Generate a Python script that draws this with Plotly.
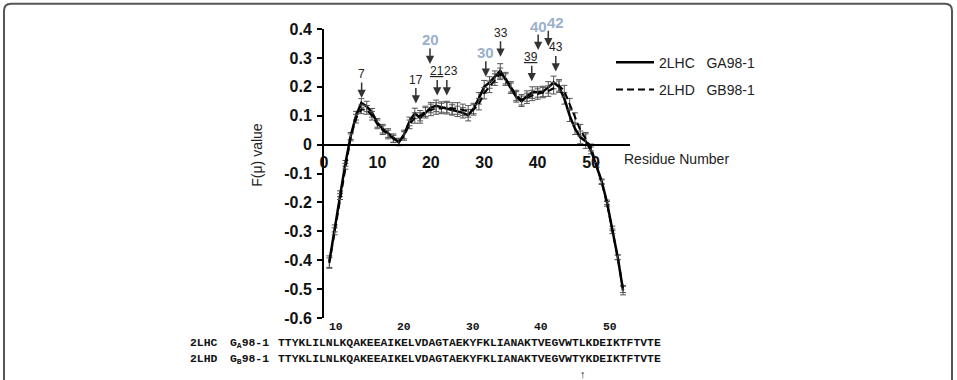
import plotly.graph_objects as go

# ---------------- data ----------------
residues = list(range(1, 57))

f_2lhc = [-0.405, -0.290, -0.170, -0.065, 0.030, 0.100, 0.144, 0.132, 0.110, 0.075,
          0.055, 0.040, 0.022, 0.008, 0.035, 0.080, 0.108, 0.092, 0.110, 0.128,
          0.134, 0.130, 0.126, 0.120, 0.115, 0.110, 0.102, 0.125, 0.160, 0.200,
          0.215, 0.235, 0.255, 0.225, 0.195, 0.165, 0.150, 0.168, 0.180, 0.182,
          0.184, 0.198, 0.215, 0.200, 0.160, 0.100, 0.055, 0.025, 0.012, -0.020,
          -0.070, -0.127, -0.200, -0.290, -0.390, -0.505]
err_2lhc = [0.020, 0.012, 0.010, 0.010, 0.012, 0.015, 0.015, 0.018, 0.015, 0.015,
            0.015, 0.015, 0.015, 0.012, 0.015, 0.015, 0.018, 0.018, 0.018, 0.018,
            0.020, 0.018, 0.020, 0.018, 0.018, 0.018, 0.020, 0.018, 0.020, 0.022,
            0.020, 0.020, 0.025, 0.020, 0.018, 0.018, 0.018, 0.018, 0.020, 0.018,
            0.018, 0.020, 0.022, 0.020, 0.020, 0.020, 0.020, 0.022, 0.025, 0.012,
            0.008, 0.008, 0.008, 0.008, 0.008, 0.015]

f_2lhd = [-0.410, -0.300, -0.180, -0.075, 0.025, 0.090, 0.122, 0.120, 0.100, 0.070,
          0.050, 0.035, 0.020, 0.010, 0.030, 0.070, 0.092, 0.100, 0.115, 0.120,
          0.125, 0.125, 0.130, 0.125, 0.125, 0.120, 0.115, 0.120, 0.140, 0.178,
          0.200, 0.225, 0.245, 0.230, 0.200, 0.170, 0.155, 0.160, 0.170, 0.175,
          0.180, 0.185, 0.195, 0.205, 0.185, 0.140, 0.090, 0.050, 0.020, -0.010,
          -0.070, -0.130, -0.205, -0.300, -0.390, -0.500]
err_2lhd = [0.018, 0.012, 0.010, 0.010, 0.012, 0.015, 0.015, 0.015, 0.015, 0.015,
            0.015, 0.015, 0.012, 0.012, 0.015, 0.015, 0.018, 0.018, 0.018, 0.020,
            0.020, 0.018, 0.020, 0.020, 0.020, 0.020, 0.020, 0.018, 0.020, 0.020,
            0.020, 0.020, 0.020, 0.020, 0.018, 0.018, 0.018, 0.018, 0.018, 0.018,
            0.018, 0.018, 0.020, 0.020, 0.020, 0.020, 0.020, 0.020, 0.022, 0.012,
            0.008, 0.008, 0.008, 0.008, 0.008, 0.012]

x_tickvals = [0, 10, 20, 30, 40, 50]
x_ticktext = ["0", "10", "20", "30", "40", "50"]
y_tickvals = [-0.6, -0.5, -0.4, -0.3, -0.2, -0.1, 0, 0.1, 0.2, 0.3, 0.4]
y_ticktext = ["-0.6", "-0.5", "-0.4", "-0.3", "-0.2", "-0.1", "0", "0.1", "0.2", "0.3", "0.4"]

# marked residues (arrows)
mark_labels = ["7", "17", "21", "23", "20", "30", "33", "39", "40", "42", "43"]
mark_res = [7.05, 17.2, 21.2, 23.0, 19.85, 30.3, 33.05, 38.9, 40.1, 42.0, 43.4]
mark_tip = [0.161, 0.142, 0.170, 0.170, 0.279, 0.235, 0.304, 0.219, 0.327, 0.340, 0.253]
highlight = {"20", "30", "40", "42"}
underlined = {"21", "39"}

seq_numbers = [10, 20, 30, 40, 50]
seq_2lhc = "TTYKLILNLKQAKEEAIKELVDAGTAEKYFKLIANAKTVEGVWTLKDEIKTFTVTE"
seq_2lhd = "TTYKLILNLKQAKEEAIKELVDAGTAEKYFKLIANAKTVEGVWTYKDEIKTFTVTE"
diff_pos = 45

# ---------------- layout helpers ----------------
L, R, T, B = 324, 630, 29.3, 318.3
W, H = R - L, B - T


def px(x):
    return (x - L) / W


def py(y):
    return (B - y) / H


FONT = "Arial, 'Liberation Sans', sans-serif"
MONO = "'Courier New', 'Liberation Mono', monospace"

fig = go.Figure()
fig.add_trace(go.Scatter(
    x=residues, y=f_2lhc, mode="lines", name="2LHC\u00a0\u00a0\u00a0GA98-1",
    legendgroup="a",
    line=dict(color="#000000", width=2.5),
    error_y=dict(type="data", array=err_2lhc, color="#555555", thickness=1, width=3),
))
fig.add_trace(go.Scatter(
    x=residues, y=f_2lhd, mode="lines", name="2LHD\u00a0\u00a0\u00a0GB98-1",
    legendgroup="b",
    line=dict(color="#000000", width=2, dash="7px,4px"),
    error_y=dict(type="data", array=err_2lhd, color="#555555", thickness=1, width=3),
))

ann = []
# label offsets from arrow tip (pixels, layout only)
label_dx = {"23": 4, "39": -1, "42": 7}
for lab, r, v in zip(mark_labels, mark_res, mark_tip):
    ann.append(dict(x=r, y=v, xref="x", yref="y", text="", showarrow=True,
                    ax=0, ay=-17, arrowhead=2, arrowsize=1.1, arrowwidth=1.5,
                    arrowcolor="#333333"))
    if lab in highlight:
        txt = "<b>%s</b>" % lab
        font = dict(family=FONT, size=15, color="#9ab0cb")
    else:
        txt = "<u>%s</u>" % lab if lab in underlined else lab
        font = dict(family=FONT, size=12, color="#222222")
    ann.append(dict(x=r, y=v, xref="x", yref="y", text=txt, showarrow=False,
                    xshift=label_dx.get(lab, 0), yshift=24, xanchor="center",
                    yanchor="middle", font=font))

# axis titles
ann.append(dict(x=px(257), y=py(155), xref="paper", yref="paper", text="F(\u03bc) value",
                textangle=-90, showarrow=False, xanchor="center", yanchor="middle",
                font=dict(family=FONT, size=14, color="#222222")))
ann.append(dict(x=px(622), y=py(159), xref="paper", yref="paper", text="Residue Number",
                xanchor="left", yanchor="middle", showarrow=False,
                font=dict(family=FONT, size=14, color="#222222")))

# sequence alignment text
cw = 6.86
seq_x0 = 276
mono = dict(family=MONO, size=11.4, color="#111111", weight="bold")
for n in seq_numbers:
    ann.append(dict(x=px(seq_x0 + n * cw), y=py(327), xref="paper", yref="paper",
                    text=str(n), xanchor="right", yanchor="middle", showarrow=False,
                    font=mono))
for yy, name, tag, seq in [(343.3, "2LHC", "A", seq_2lhc), (359.3, "2LHD", "B", seq_2lhd)]:
    ann.append(dict(x=px(188), y=py(yy), xref="paper", yref="paper", text=name,
                    xanchor="left", yanchor="middle", showarrow=False, font=mono))
    ann.append(dict(x=px(228), y=py(yy), xref="paper", yref="paper",
                    text="G<sub>%s</sub>98-1" % tag,
                    xanchor="left", yanchor="middle", showarrow=False, font=mono))
    ann.append(dict(x=px(seq_x0), y=py(yy), xref="paper", yref="paper", text=seq,
                    xanchor="left", yanchor="middle", showarrow=False, font=mono))
ann.append(dict(x=px(seq_x0 + (diff_pos - 0.5) * cw + 2), y=py(374), xref="paper", yref="paper",
                text="\u2191", xanchor="center", yanchor="middle", showarrow=False,
                font=dict(family=FONT, size=11, color="#111111")))

# rounded frame
rr = 7
frame = ("M %f,%f L %f,%f Q %f,%f %f,%f L %f,%f Q %f,%f %f,%f L %f,%f" % (
    px(4), py(395), px(4), py(4 + rr), px(4), py(4), px(4 + rr), py(4),
    px(952 - rr), py(4), px(952), py(4), px(952), py(4 + rr), px(952), py(395)))

fig.update_layout(
    width=957, height=380,
    margin=dict(l=L, r=957 - R, t=T, b=380 - B, pad=0),
    paper_bgcolor="white", plot_bgcolor="white",
    font=dict(family=FONT, color="#111111"),
    showlegend=True,
    legend=dict(x=px(611), y=py(47), xanchor="left", yanchor="top",
                bgcolor="rgba(0,0,0,0)", tracegroupgap=6, itemwidth=38,
                font=dict(family=FONT, size=14, color="#222222")),
    xaxis=dict(range=[0, 57.3], anchor="free", position=0.6, showline=True,
               linecolor="#000000", linewidth=2, showgrid=False, zeroline=False,
               tickvals=x_tickvals, ticktext=x_ticktext, ticks="",
               ticklabelstandoff=3,
               tickfont=dict(family=FONT, size=16, color="#111111", weight="bold")),
    yaxis=dict(range=[-0.6, 0.4], showline=True, linecolor="#000000", linewidth=2,
               showgrid=False, zeroline=False, tickvals=y_tickvals, ticktext=y_ticktext,
               ticks="outside", ticklen=5, tickwidth=1.5, tickcolor="#000000",
               ticklabelstandoff=2,
               tickfont=dict(family=FONT, size=16, color="#111111", weight="bold")),
    annotations=ann,
    shapes=[dict(type="path", xref="paper", yref="paper", path=frame,
                 line=dict(color="#555555", width=2))],
)

fig.write_html("out.html")
